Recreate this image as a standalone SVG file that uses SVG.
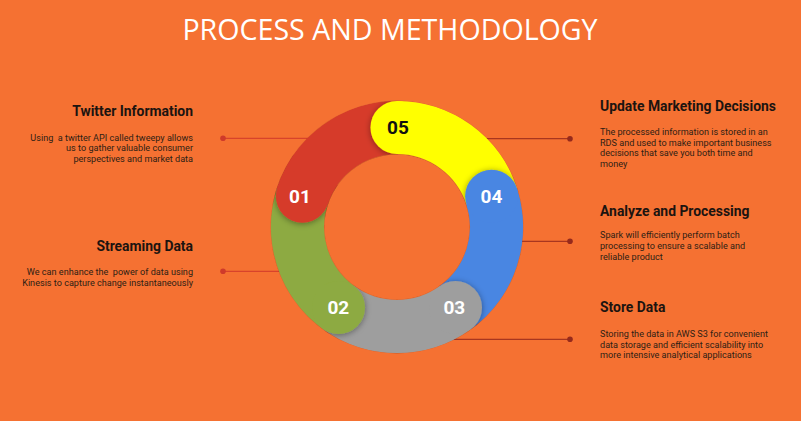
<svg xmlns="http://www.w3.org/2000/svg" xmlns:xlink="http://www.w3.org/1999/xlink" width="801" height="421" viewBox="0 0 801 421">
  <style>
    .title { font-family: "Open Sans", "Liberation Sans", sans-serif; font-size: 28.6px; fill: #ffffff; }
    .h { font-family: Roboto, "Liberation Sans", sans-serif; font-size: 13.9px; font-weight: 700; fill: #1c1410; }
    .d { font-family: Roboto, "Liberation Sans", sans-serif; font-size: 9.1px; fill: #2e1e14; white-space: pre; }
    .num { font-family: Roboto, "Liberation Sans", sans-serif; font-size: 19px; font-weight: 700; fill: #ffffff; text-anchor: middle; }
    .arc { fill: none; stroke-width: 53; }
    .cl { stroke: #D8432B; stroke-width: 1.2; fill: none; }
    .cr { stroke: #A8361F; stroke-width: 1.2; fill: none; }
    .dl { fill: #CF3A2A; }
    .dr { fill: #962A1C; }
  </style>
  <defs>
    <filter id="sh" filterUnits="userSpaceOnUse" x="0" y="0" width="801" height="421">
      <feDropShadow dx="0" dy="1" stdDeviation="3" flood-color="#000000" flood-opacity="0.4"/>
    </filter>
    <clipPath id="ring">
      <path clip-rule="evenodd" d="M 270.5 227 A 126.5 126.5 0 1 1 523.5 227 A 126.5 126.5 0 1 1 270.5 227 Z M 324.5 227 A 72.5 72.5 0 1 0 469.5 227 A 72.5 72.5 0 1 0 324.5 227 Z"/>
    </clipPath>
    <clipPath id="wedge01">
      <polygon points="397,227 223.8,327 197,227 233.2,112.3"/>
    </clipPath>
    <g id="shape01" filter="url(#sh)" clip-path="url(#ring)">
      <path class="arc" stroke="#D63B2A" d="M 302.37 196.25 A 99.5 99.5 0 0 1 397 127.5"/>
      <circle cx="302.37" cy="196.25" r="26.5" fill="#D63B2A"/>
    </g>
  </defs>

  <rect x="0" y="0" width="801" height="421" fill="#F57132"/>

  <text class="title" x="390" y="40" text-anchor="middle">PROCESS AND METHODOLOGY</text>

  <g id="connectors">
    <line class="cl" x1="223" y1="138.3" x2="310" y2="138.3"/>
    <circle class="dl" cx="223" cy="138.3" r="2.8"/>
    <line class="cl" x1="223" y1="271.3" x2="290" y2="271.3"/>
    <circle class="dl" cx="223" cy="271.3" r="2.8"/>
    <line class="cr" x1="480" y1="138.7" x2="570" y2="138.7"/>
    <circle class="dr" cx="570" cy="138.7" r="2.8"/>
    <line class="cr" x1="510" y1="241.3" x2="570" y2="241.3"/>
    <circle class="dr" cx="570" cy="241.3" r="2.8"/>
    <line class="cr" x1="440" y1="339.3" x2="570" y2="339.3"/>
    <circle class="dr" cx="570" cy="339.3" r="2.8"/>
  </g>

  <g id="ring-base">
    <use xlink:href="#shape01" href="#shape01"/>
  </g>

  <g id="node-05">
    <g filter="url(#sh)" clip-path="url(#ring)">
      <path class="arc" stroke="#FFFF00" d="M 397 127.5 A 99.5 99.5 0 0 1 491.63 196.25"/>
      <circle cx="397" cy="127.5" r="26.5" fill="#FFFF00"/>
    </g>
    <text class="num" x="398" y="134" style="fill:#111111">05</text>
    <text class="h" x="600" y="110.7">Update Marketing Decisions</text>
    <text class="d" x="600" y="135">The processed information is stored in an</text>
    <text class="d" x="600" y="145.7">RDS and used to make important business</text>
    <text class="d" x="600" y="156.4">decisions that save you both time and</text>
    <text class="d" x="600" y="167.1">money</text>
  </g>

  <g id="node-04">
    <g filter="url(#sh)" clip-path="url(#ring)">
      <path class="arc" stroke="#4A86E2" d="M 491.63 196.25 A 99.5 99.5 0 0 1 455.49 307.5"/>
      <circle cx="491.63" cy="196.25" r="26.5" fill="#4A86E2"/>
    </g>
    <text class="num" x="491.5" y="202.8">04</text>
    <text class="h" x="600" y="215.7">Analyze and Processing</text>
    <text class="d" x="600" y="238.3">Spark will efficiently perform batch</text>
    <text class="d" x="600" y="249">processing to ensure a scalable and</text>
    <text class="d" x="600" y="259.7">reliable product</text>
  </g>

  <g id="node-03">
    <g filter="url(#sh)" clip-path="url(#ring)">
      <path class="arc" stroke="#9E9E9E" d="M 455.49 307.5 A 99.5 99.5 0 0 1 338.51 307.5"/>
      <circle cx="455.49" cy="307.5" r="26.5" fill="#9E9E9E"/>
    </g>
    <text class="num" x="454.3" y="314">03</text>
    <text class="h" x="600" y="312.3">Store Data</text>
    <text class="d" x="600" y="336.7">Storing the data in AWS S3 for convenient</text>
    <text class="d" x="600" y="347.5">data storage and efficient scalability into</text>
    <text class="d" x="600" y="358.3">more intensive analytical applications</text>
  </g>

  <g id="node-02">
    <g filter="url(#sh)" clip-path="url(#ring)">
      <path class="arc" stroke="#8DAA42" d="M 338.51 307.5 A 99.5 99.5 0 0 1 302.37 196.25"/>
      <circle cx="338.51" cy="307.5" r="26.5" fill="#8DAA42"/>
    </g>
    <text class="num" x="338.3" y="314">02</text>
    <text class="h" x="193" y="250.7" text-anchor="end">Streaming Data</text>
    <text class="d" x="193" y="275" text-anchor="end">We can enhance the  power of data using</text>
    <text class="d" x="193" y="285.5" text-anchor="end">Kinesis to capture change instantaneously</text>
  </g>

  <g id="node-01">
    <use xlink:href="#shape01" href="#shape01" clip-path="url(#wedge01)"/>
    <text class="num" x="300" y="202.8">01</text>
    <text class="h" x="193" y="116" text-anchor="end">Twitter Information</text>
    <text class="d" x="193" y="140.5" text-anchor="end">Using  a twitter API called tweepy allows</text>
    <text class="d" x="193" y="151.3" text-anchor="end">us to gather valuable consumer</text>
    <text class="d" x="193" y="162" text-anchor="end">perspectives and market data</text>
  </g>
</svg>
